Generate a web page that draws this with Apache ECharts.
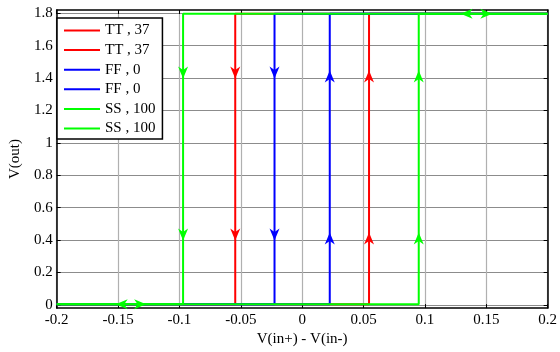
<!DOCTYPE html>
<html>
<head>
<meta charset="utf-8">
<script src="https://cdn.jsdelivr.net/npm/echarts@6/dist/echarts.min.js"></script>
<style>
  html, body { margin: 0; padding: 0; background: #fff; }
</style>
</head>
<body>
<div id="hyst" style="width: 560px; height: 352px"></div>
<script>
// tick labels
var xTicks = [-0.2, -0.15, -0.1, -0.05, 0, 0.05, 0.1, 0.15, 0.2];
var yTicks = [0, 0.2, 0.4, 0.6, 0.8, 1, 1.2, 1.4, 1.6, 1.8];

// legend names (the second of each pair gets a trailing space so both stay in the legend)
var names = ["TT , 37", "TT , 37 ", "FF , 0", "FF , 0 ", "SS , 100", "SS , 100 "];
var colors = ["#ff0000", "#ff0000", "#0000ff", "#0000ff", "#00ff00", "#00ff00"];

// sweep curves: [V(in+) - V(in-), V(out)]
var ttUp = [[-0.2, 0.004], [0.0545, 0.004], [0.0545, 1.797], [0.2, 1.797]];
var ttDown = [[0.2, 1.797], [-0.0545, 1.797], [-0.0545, 0.004], [-0.2, 0.004]];
var ffUp = [[-0.2, 0.004], [0.0225, 0.004], [0.0225, 1.797], [0.2, 1.797]];
var ffDown = [[0.2, 1.797], [-0.0225, 1.797], [-0.0225, 0.004], [-0.2, 0.004]];
var ssUp = [[-0.2, 0.004], [0.095, 0.004], [0.095, 1.797], [0.2, 1.797]];
var ssDown = [[0.2, 1.797], [-0.097, 1.797], [-0.097, 0.004], [-0.2, 0.004]];

// arrow heads: [x, y, rotation]  (0 = up, 180 = down, 90 = left, -90 = right)
var ttUpArrows = [[0.0545, 1.41, 0], [0.0545, 0.41, 0]];
var ttDownArrows = [[-0.0545, 1.434, 180], [-0.0545, 0.434, 180]];
var ffUpArrows = [[0.0225, 1.41, 0], [0.0225, 0.41, 0]];
var ffDownArrows = [[-0.0225, 1.434, 180], [-0.0225, 0.434, 180]];
var ssUpArrows = [[0.095, 1.41, 0], [0.095, 0.41, 0], [-0.132, 0.004, -90], [0.15, 1.797, -90]];
var ssDownArrows = [[-0.097, 1.434, 180], [-0.097, 0.434, 180], [0.134, 1.797, 90], [-0.147, 0.004, 90]];

var curves = [ttUp, ttDown, ffUp, ffDown, ssUp, ssDown];
var arrows = [ttUpArrows, ttDownArrows, ffUpArrows, ffDownArrows, ssUpArrows, ssDownArrows];

var font = "Liberation Serif";
var arrowPath = "path://M5,0L10,12L5,8.5L0,12Z";

var series = [];
names.forEach(function (n, i) {
  series.push({
    name: n,
    type: "line",
    data: curves[i],
    symbol: "none",
    color: colors[i],
    lineStyle: { width: 2, color: colors[i] },
    z: 2,
  });
});
names.forEach(function (n, i) {
  series.push({
    name: "arrows " + i,
    type: "scatter",
    symbol: arrowPath,
    symbolSize: [10, 12],
    itemStyle: { color: colors[i], opacity: 1 },
    z: 3,
    silent: true,
    data: arrows[i].map(function (a) {
      return { value: [a[0], a[1]], symbolRotate: a[2] };
    }),
  });
});

var axisBase = {
  axisLine: { show: true, onZero: false, lineStyle: { color: "#000", width: 1.5 } },
  axisTick: { show: true, inside: true, length: 4, lineStyle: { color: "#000", width: 1 } },
};

var myChart = echarts.init(document.getElementById("hyst"));
var option = {
  backgroundColor: "#fff",
  animation: false,
  grid: { left: 53, right: 9, top: 10, bottom: 37 },
  legend: {
    data: names,
    formatter: function (name) { return name.trim(); },
    orient: "vertical",
    left: 57,
    top: 18,
    icon: "rect",
    itemWidth: 36,
    itemHeight: 2,
    itemGap: 4.6,
    padding: [5, 7, 3, 7],
    backgroundColor: "#fff",
    borderColor: "#000",
    borderWidth: 1.5,
    borderRadius: 0,
    textStyle: { fontFamily: font, fontSize: 15, color: "#000" },
  },
  xAxis: [
    Object.assign({}, axisBase, {
      type: "value",
      min: -0.2,
      max: 0.2,
      interval: 0.05,
      name: "V(in+) - V(in-)",
      nameLocation: "middle",
      nameGap: 20,
      nameTextStyle: { fontFamily: font, fontSize: 15, color: "#000" },
      axisLabel: {
        fontFamily: font,
        fontSize: 15,
        color: "#000",
        margin: 4,
        formatter: function (v) { return String(Math.round(v * 100) / 100); },
      },
      splitLine: { show: true, lineStyle: { color: "#b0b0b0", width: 1.2 } },
    }),
    Object.assign({}, axisBase, {
      type: "value",
      position: "top",
      min: -0.2,
      max: 0.2,
      interval: 0.05,
      axisLabel: { show: false },
      splitLine: { show: false },
    }),
  ],
  yAxis: [
    Object.assign({}, axisBase, {
      type: "value",
      min: -0.02,
      max: 1.82,
      name: "V(out)",
      nameLocation: "middle",
      nameGap: 30,
      nameTextStyle: { fontFamily: font, fontSize: 15, color: "#000" },
      axisTick: { show: true, inside: true, length: 4, customValues: yTicks, lineStyle: { color: "#000", width: 1 } },
      axisLabel: {
        fontFamily: font,
        fontSize: 15,
        color: "#000",
        margin: 4,
        customValues: yTicks,
        formatter: function (v) { return String(Math.round(v * 10) / 10); },
      },
      splitLine: { show: true, lineStyle: { color: "#8c8c8c", width: 1 } },
    }),
    Object.assign({}, axisBase, {
      type: "value",
      position: "right",
      min: -0.02,
      max: 1.82,
      axisTick: { show: true, inside: true, length: 4, customValues: yTicks, lineStyle: { color: "#000", width: 1 } },
      axisLabel: { show: false },
      splitLine: { show: false },
    }),
  ],
  series: series,
};
myChart.setOption(option);
</script>
</body>
</html>
